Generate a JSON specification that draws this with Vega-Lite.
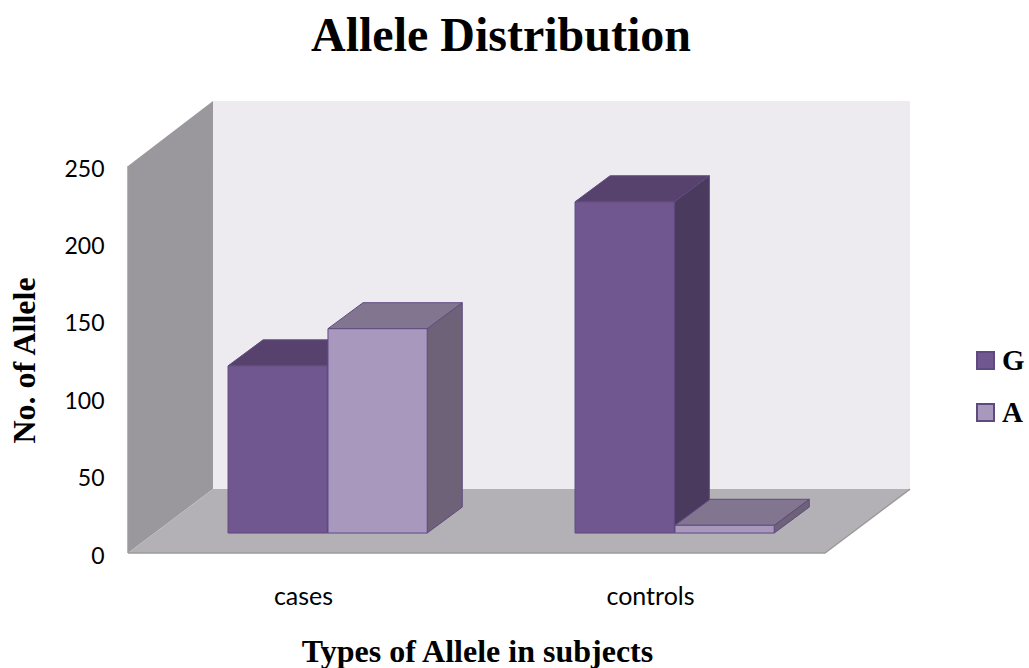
{
  "$schema": "https://vega.github.io/schema/vega-lite/v6.json",
  "width": 782,
  "height": 452,
  "autosize": "none",
  "padding": {"left": 128, "top": 101, "right": 119, "bottom": 115},
  "background": "white",
  "view": {"stroke": null},
  "title": {
    "text": "Allele Distribution",
    "font": "Liberation Serif",
    "fontWeight": "bold",
    "fontSize": 48,
    "color": "#000000",
    "anchor": "middle",
    "dx": -18,
    "offset": 40
  },
  "datasets": {
    "alleles": [
      {"group": "cases", "series": "G", "count": 108},
      {"group": "cases", "series": "A", "count": 132},
      {"group": "controls", "series": "G", "count": 214},
      {"group": "controls", "series": "A", "count": 5}
    ],
    "box": [
      {"part": "back wall", "u": 0.7406, "u2": 2.7493, "v": 41.3, "v2": 292},
      {"part": "left wall", "u": 0.4957, "v": 0, "v2": 250},
      {"part": "left wall", "u": 0.7406, "v": 41.3, "v2": 292},
      {"part": "floor", "u": 0.4957, "u2": 2.5043, "v": 0},
      {"part": "floor", "u": 0.7406, "u2": 2.7493, "v": 41.3},
      {"part": "edge", "edge": "floor", "step": 1, "u": 0.4957, "v": 0},
      {"part": "edge", "edge": "floor", "step": 2, "u": 2.5043, "v": 0},
      {"part": "edge", "edge": "floor", "step": 3, "u": 2.7493, "v": 41.3},
      {"part": "edge", "edge": "wall", "step": 1, "u": 0.4957, "v": 0},
      {"part": "edge", "edge": "wall", "step": 2, "u": 0.4957, "v": 250}
    ]
  },
  "encoding": {
    "x": {
      "field": "u",
      "type": "quantitative",
      "scale": {"domain": [0.4957, 2.7493], "nice": false, "zero": false},
      "axis": {
        "values": [1, 2],
        "labelExpr": "datum.value === 1 ? 'cases' : 'controls'",
        "title": "Types of Allele in subjects",
        "titleFont": "Liberation Serif",
        "titleFontWeight": "bold",
        "titleFontSize": 32,
        "titleColor": "#000000",
        "titleX": 349,
        "titleY": 115,
        "titleBaseline": "bottom",
        "labelFont": "Lato",
        "labelFontSize": 25,
        "labelColor": "#000000",
        "labelPadding": 31,
        "domain": false,
        "ticks": false,
        "grid": false
      }
    },
    "y": {
      "field": "v",
      "type": "quantitative",
      "scale": {"domain": [0, 292], "nice": false},
      "axis": {
        "values": [0, 50, 100, 150, 200, 250],
        "title": "No. of Allele",
        "titleFont": "Liberation Serif",
        "titleFontWeight": "bold",
        "titleFontSize": 32,
        "titleColor": "#000000",
        "titleAngle": -90,
        "titleX": -87,
        "titleY": 259,
        "titleBaseline": "bottom",
        "labelFont": "Lato",
        "labelFontSize": 23,
        "labelColor": "#000000",
        "labelPadding": 24,
        "labelOffset": 3,
        "domain": false,
        "ticks": false,
        "grid": false
      }
    },
    "color": {
      "field": "part",
      "type": "nominal",
      "scale": {
        "domain": ["G", "A", "G top", "G side", "A top", "A side", "back wall", "left wall", "floor"],
        "range": ["#70578f", "#a998bd", "#57426e", "#4a3a5e", "#82758f", "#6d6278", "#edebf0", "#9a989c", "#b3b1b5"]
      },
      "legend": {
        "values": ["G", "A"],
        "title": null,
        "orient": "none",
        "legendX": 843,
        "legendY": 245,
        "symbolType": "square",
        "symbolSize": 289,
        "symbolStrokeColor": "#5f4a80",
        "symbolStrokeWidth": 2,
        "labelFont": "Liberation Serif",
        "labelFontWeight": "bold",
        "labelFontSize": 29,
        "labelColor": "#000000",
        "labelOffset": 2,
        "rowPadding": 22
      }
    }
  },
  "layer": [
    {
      "data": {"name": "box"},
      "transform": [{"filter": "datum.part === 'back wall'"}],
      "mark": {"type": "rect"},
      "encoding": {"x2": {"field": "u2"}, "y2": {"field": "v2"}}
    },
    {
      "data": {"name": "box"},
      "transform": [{"filter": "datum.part === 'left wall'"}],
      "mark": {"type": "area", "orient": "vertical"},
      "encoding": {"y2": {"field": "v2"}}
    },
    {
      "data": {"name": "box"},
      "transform": [{"filter": "datum.part === 'floor'"}],
      "mark": {"type": "area", "orient": "horizontal"},
      "encoding": {"x2": {"field": "u2"}}
    },
    {
      "data": {"name": "box"},
      "transform": [{"filter": "datum.part === 'edge'"}],
      "mark": {"type": "line", "strokeWidth": 1.5},
      "encoding": {
        "color": {"value": "#9c9c9c"},
        "detail": {"field": "edge"},
        "order": {"field": "step"}
      }
    },
    {
      "data": {"name": "alleles"},
      "transform": [
        {"filter": "datum.series === 'G'"},
        {"calculate": "0", "as": "near"},
        {"calculate": "1", "as": "far"},
        {"fold": ["near", "far"], "as": ["end", "t"]},
        {"calculate": "(datum.group === 'cases' ? 1 : 2) - 0.216 + 0.286 + 0.101 * datum.t", "as": "u"},
        {"calculate": "12.9 + 16.8 * datum.t", "as": "v"},
        {"calculate": "datum.v + datum.count", "as": "v2"},
        {"calculate": "datum.series + ' side'", "as": "part"}
      ],
      "mark": {"type": "area", "orient": "vertical", "stroke": "#5f4a80", "strokeWidth": 1},
      "encoding": {"y2": {"field": "v2"}, "detail": {"field": "group"}}
    },
    {
      "data": {"name": "alleles"},
      "transform": [
        {"filter": "datum.series === 'G'"},
        {"calculate": "0", "as": "near"},
        {"calculate": "1", "as": "far"},
        {"fold": ["near", "far"], "as": ["end", "t"]},
        {"calculate": "(datum.group === 'cases' ? 1 : 2) - 0.216 + 0.101 * datum.t", "as": "u"},
        {"calculate": "datum.u + 0.286", "as": "u2"},
        {"calculate": "12.9 + datum.count + 16.8 * datum.t", "as": "v"},
        {"calculate": "datum.series + ' top'", "as": "part"}
      ],
      "mark": {"type": "area", "orient": "horizontal", "stroke": "#5f4a80", "strokeWidth": 1},
      "encoding": {"x2": {"field": "u2"}, "detail": {"field": "group"}}
    },
    {
      "data": {"name": "alleles"},
      "transform": [
        {"filter": "datum.series === 'G'"},
        {"calculate": "(datum.group === 'cases' ? 1 : 2) - 0.216", "as": "u"},
        {"calculate": "datum.u + 0.286", "as": "u2"},
        {"calculate": "12.9", "as": "v"},
        {"calculate": "12.9 + datum.count", "as": "v2"},
        {"calculate": "datum.series", "as": "part"}
      ],
      "mark": {"type": "rect", "stroke": "#5f4a80", "strokeWidth": 1},
      "encoding": {"x2": {"field": "u2"}, "y2": {"field": "v2"}}
    },
    {
      "data": {"name": "alleles"},
      "transform": [
        {"filter": "datum.series === 'A'"},
        {"calculate": "0", "as": "near"},
        {"calculate": "1", "as": "far"},
        {"fold": ["near", "far"], "as": ["end", "t"]},
        {"calculate": "(datum.group === 'cases' ? 1 : 2) + 0.072 + 0.286 + 0.101 * datum.t", "as": "u"},
        {"calculate": "12.9 + 16.8 * datum.t", "as": "v"},
        {"calculate": "datum.v + datum.count", "as": "v2"},
        {"calculate": "datum.series + ' side'", "as": "part"}
      ],
      "mark": {"type": "area", "orient": "vertical", "stroke": "#5f4a80", "strokeWidth": 1},
      "encoding": {"y2": {"field": "v2"}, "detail": {"field": "group"}}
    },
    {
      "data": {"name": "alleles"},
      "transform": [
        {"filter": "datum.series === 'A'"},
        {"calculate": "0", "as": "near"},
        {"calculate": "1", "as": "far"},
        {"fold": ["near", "far"], "as": ["end", "t"]},
        {"calculate": "(datum.group === 'cases' ? 1 : 2) + 0.072 + 0.101 * datum.t", "as": "u"},
        {"calculate": "datum.u + 0.286", "as": "u2"},
        {"calculate": "12.9 + datum.count + 16.8 * datum.t", "as": "v"},
        {"calculate": "datum.series + ' top'", "as": "part"}
      ],
      "mark": {"type": "area", "orient": "horizontal", "stroke": "#5f4a80", "strokeWidth": 1},
      "encoding": {"x2": {"field": "u2"}, "detail": {"field": "group"}}
    },
    {
      "data": {"name": "alleles"},
      "transform": [
        {"filter": "datum.series === 'A'"},
        {"calculate": "(datum.group === 'cases' ? 1 : 2) + 0.072", "as": "u"},
        {"calculate": "datum.u + 0.286", "as": "u2"},
        {"calculate": "12.9", "as": "v"},
        {"calculate": "12.9 + datum.count", "as": "v2"},
        {"calculate": "datum.series", "as": "part"}
      ],
      "mark": {"type": "rect", "stroke": "#5f4a80", "strokeWidth": 1},
      "encoding": {"x2": {"field": "u2"}, "y2": {"field": "v2"}}
    }
  ]
}
